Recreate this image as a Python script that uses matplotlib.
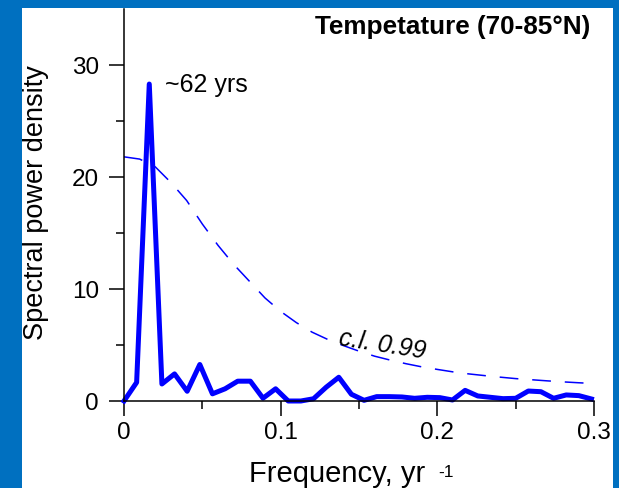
import numpy as np
import matplotlib
matplotlib.use('Agg')
import matplotlib.pyplot as plt
from matplotlib.patches import Rectangle

plt.rcParams['font.family'] = ['Liberation Sans', 'DejaVu Sans']
plt.rcParams['lines.scale_dashes'] = False

# spectrum, frequency step 1/124 yr^-1
n_years = 124
power = [0.0, 1.66, 28.3, 1.52, 2.42, 0.87, 3.26, 0.64, 1.09, 1.77,
         1.77, 0.25, 1.09, 0.0, 0.0, 0.2, 1.23, 2.12, 0.6, 0.06,
         0.39, 0.39, 0.36, 0.24, 0.33, 0.3, 0.09, 0.95, 0.45, 0.33,
         0.21, 0.24, 0.89, 0.83, 0.24, 0.54, 0.48, 0.18]
freq = np.arange(len(power)) / n_years

# 99% confidence level curve
cl_freq = [0.0, 0.01, 0.02, 0.03, 0.04, 0.05, 0.06, 0.07, 0.08, 0.09,
           0.10, 0.11, 0.12, 0.13, 0.14, 0.15, 0.16, 0.17, 0.18, 0.19,
           0.20, 0.21, 0.22, 0.23, 0.24, 0.25, 0.26, 0.27, 0.28, 0.29, 0.30]
cl_power = [21.8, 21.6, 20.9, 19.5, 17.9, 15.8, 13.9, 12.2, 10.7, 9.2,
            8.0, 7.0, 6.15, 5.5, 4.95, 4.45, 4.0, 3.65, 3.33, 3.05,
            2.82, 2.6, 2.42, 2.27, 2.13, 2.0, 1.9, 1.8, 1.71, 1.63, 1.56]

fig = plt.figure(figsize=(6.19, 4.88), dpi=100)
fig.patch.set_facecolor('#0070C0')
fig.patches.append(Rectangle((22 / 619, 0), (613 - 22) / 619, 1 - 8 / 488,
                             transform=fig.transFigure, facecolor='white',
                             edgecolor='none', zorder=-10))

ax = fig.add_axes([124 / 619, 1 - 401 / 488, 470 / 619, 392 / 488])
ax.patch.set_visible(False)

ax.plot(cl_freq, cl_power, color='#0000FF', lw=1.1, ls=(0, (13.5, 10)))
ax.plot(freq, power, color='#0000FF', lw=3.6, solid_joinstyle='round',
        clip_on=False)

ax.set_xlim(0, 0.3)
ax.set_ylim(0, 35)
ax.set_xticks([0, 0.1, 0.2, 0.3])
ax.set_xticklabels(['0', '0.1', '0.2', '0.3'])
ax.set_xticks([0.05, 0.15, 0.25], minor=True)
ax.set_yticks([0, 10, 20, 30])
ax.set_yticks([5, 15, 25], minor=True)

for s in ['top', 'right']:
    ax.spines[s].set_visible(False)
for s in ['left', 'bottom']:
    ax.spines[s].set_linewidth(1.1)

ax.tick_params(which='major', direction='out', length=11, width=1.1,
               labelsize=17.5, pad=4)
ax.tick_params(which='minor', direction='out', length=6, width=1.1)
ax.tick_params(axis='y', which='major', pad=7)

ax.set_xlabel('Frequency, yr', fontsize=21)
ax.xaxis.set_label_coords(0.454, -0.15)
ax.text(0.668, -0.162, '-1', transform=ax.transAxes, ha='left', va='top',
        fontsize=12.5)
ax.set_ylabel('Spectral power density', fontsize=19.5)
ax.yaxis.set_label_coords(-0.16, 0.505)

ax.text(0.991, 0.955, 'Tempetature (70-85°N)', transform=ax.transAxes,
        ha='right', va='center', fontsize=18.8, fontweight='bold')
ax.text(0.0262, 27.6, '~62 yrs', ha='left', va='baseline', fontsize=18)
ax.text(0.1363, 5.0, 'c.l. 0.99', ha='left', va='baseline', fontsize=18,
        style='italic', rotation=-9, rotation_mode='anchor')

fig.savefig('out.png', dpi=100, facecolor=fig.get_facecolor())
